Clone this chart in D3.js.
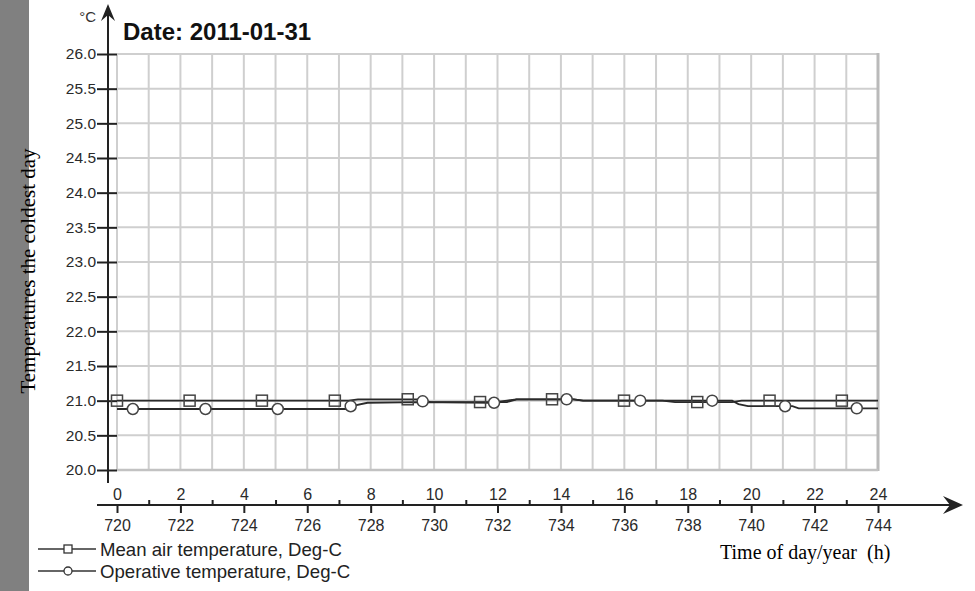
<!DOCTYPE html>
<html>
<head>
<meta charset="utf-8">
<script src="https://cdn.jsdelivr.net/npm/d3@7"></script>
<style>
  html, body { margin: 0; padding: 0; background: #fff; }
  svg { display: block; }
</style>
</head>
<body>
<svg id="chart" width="975" height="591"></svg>
<script>
// ---- Data ----
const title = "Date: 2011-01-31";
const yTicks = [20.0, 20.5, 21.0, 21.5, 22.0, 22.5, 23.0, 23.5, 24.0, 24.5, 25.0, 25.5, 26.0];
const hourLabels = [0, 2, 4, 6, 8, 10, 12, 14, 16, 18, 20, 22, 24];
const minorHours = [1, 3, 5, 7, 9, 11, 13, 15, 17, 19, 21, 23];
const yearHourOffset = 720;

// Mean air temperature, Deg-C
const airTimes  = [0, 7.3, 7.6, 9.5, 9.9, 12.3, 12.6, 14.4, 14.7, 17.2, 17.6, 19.4, 19.7, 24];
const airValues = [21.0, 21.0, 21.02, 21.02, 20.98, 20.98, 21.02, 21.02, 21.0, 21.0, 20.98, 20.98, 21.0, 21.0];
const airMarkerTimes  = [0, 2.29, 4.57, 6.87, 9.17, 11.45, 13.72, 15.99, 18.3, 20.58, 22.86];
const airMarkerValues = [21.0, 21.0, 21.0, 21.0, 21.02, 20.98, 21.02, 21.0, 20.98, 21.0, 21.0];

// Operative temperature, Deg-C
const opTimes  = [0, 7.25, 7.4, 7.9, 9.5, 11.8, 12.3, 12.6, 14.4, 14.7, 19.4, 19.6, 19.9, 21.3, 21.5, 24];
const opValues = [20.88, 20.88, 20.92, 20.97, 20.98, 20.97, 21.0, 21.02, 21.02, 21.0, 21.0, 20.95, 20.92, 20.92, 20.89, 20.89];
const opMarkerTimes  = [0.5, 2.79, 5.07, 7.37, 9.64, 11.89, 14.18, 16.5, 18.77, 21.07, 23.33];
const opMarkerValues = [20.88, 20.88, 20.88, 20.92, 20.99, 20.97, 21.02, 21.0, 21.0, 20.92, 20.89];

const seriesNames = ["Mean air temperature, Deg-C", "Operative temperature, Deg-C"];

// ---- Drawing ----
const svg = d3.select("#chart");
const x = d3.scaleLinear().domain([0, 24]).range([117, 878]);
const y = d3.scaleLinear().domain([20, 26]).range([470, 54]);
const axisX = 108, axisY = 505;
const ink = "#222";
const sans = "Arial, 'Liberation Sans', sans-serif";
const serif = "'Times New Roman', 'Liberation Serif', serif";

// left gray band
svg.append("rect").attr("x", 0).attr("y", 0).attr("width", 29).attr("height", 591).attr("fill", "#808080");

// grid
const grid = svg.append("g");
grid.selectAll("line.v").data(d3.range(0, 25)).join("line")
  .attr("x1", d => x(d)).attr("x2", d => x(d))
  .attr("y1", y(26)).attr("y2", y(20))
  .attr("stroke", "#cfcfcf").attr("stroke-width", 2);
grid.selectAll("line.h").data(yTicks).join("line")
  .attr("x1", x(0)).attr("x2", x(24))
  .attr("y1", d => y(d)).attr("y2", d => y(d))
  .attr("stroke", "#cfcfcf").attr("stroke-width", 2);
// frame right & bottom
svg.append("line").attr("x1", x(24)).attr("x2", x(24)).attr("y1", y(26) - 1).attr("y2", y(20) + 1)
  .attr("stroke", "#bababa").attr("stroke-width", 3);
svg.append("line").attr("x1", x(0)).attr("x2", x(24)).attr("y1", y(20)).attr("y2", y(20))
  .attr("stroke", "#c2c2c2").attr("stroke-width", 2.5);

// y axis
const yAxis = svg.append("g").attr("transform", `translate(${axisX},0)`)
  .call(d3.axisLeft(y).tickValues(yTicks).tickFormat(d3.format(".1f")).tickSizeInner(11).tickSizeOuter(0).tickPadding(1));
yAxis.select(".domain").remove();
yAxis.selectAll(".tick line").attr("x1", 9).attr("stroke", ink).attr("stroke-width", 2);
yAxis.selectAll(".tick text").attr("font-family", sans)
  .attr("font-size", 15.5).attr("fill", "#2a2a2a");
svg.append("line").attr("x1", axisX).attr("x2", axisX).attr("y1", 12).attr("y2", 483)
  .attr("stroke", ink).attr("stroke-width", 2);
svg.append("path").attr("d", `M${axisX - 7},21 L${axisX},4 L${axisX + 7},21 L${axisX},15 Z`).attr("fill", ink);
svg.append("text").attr("x", 96).attr("y", 22).attr("text-anchor", "end")
  .attr("font-family", sans).attr("font-size", 15).attr("fill", "#333").text("°C");

// x axis
svg.append("line").attr("x1", 97).attr("x2", 955).attr("y1", axisY).attr("y2", axisY)
  .attr("stroke", ink).attr("stroke-width", 2);
svg.append("path").attr("d", `M943,496 L963,${axisY} L943,514 L950,${axisY} Z`).attr("fill", ink);

const xTop = svg.append("g").attr("transform", `translate(0,${axisY})`)
  .call(d3.axisTop(x).tickValues(hourLabels).tickFormat(d3.format("d")).tickSize(0).tickPadding(5));
xTop.select(".domain").remove();
xTop.selectAll(".tick text").attr("font-family", sans)
  .attr("font-size", 16).attr("fill", "#2a2a2a");

const xMinor = svg.append("g").attr("transform", `translate(0,${axisY})`)
  .call(d3.axisTop(x).tickValues(minorHours).tickFormat("").tickSize(5));
xMinor.select(".domain").remove();
xMinor.selectAll(".tick line").attr("stroke", ink).attr("stroke-width", 2);

const xBottom = svg.append("g").attr("transform", `translate(0,${axisY})`)
  .call(d3.axisBottom(x).tickValues(hourLabels).tickFormat(d => String(yearHourOffset + d)).tickSize(8).tickPadding(7));
xBottom.select(".domain").remove();
xBottom.selectAll(".tick line").attr("stroke", ink).attr("stroke-width", 2);
xBottom.selectAll(".tick text").attr("font-family", sans)
  .attr("font-size", 16).attr("fill", "#2a2a2a");

// series lines
const line = d3.line().x(d => x(d[0])).y(d => y(d[1]));
const airPts = d3.zip(airTimes, airValues);
const opPts = d3.zip(opTimes, opValues);
svg.append("path").datum(airPts).attr("d", line).attr("fill", "none").attr("stroke", "#2a2a2a").attr("stroke-width", 1.8);
svg.append("path").datum(opPts).attr("d", line).attr("fill", "none").attr("stroke", "#2a2a2a").attr("stroke-width", 1.8);

// markers
const sq = 11;
svg.append("g").selectAll("rect").data(d3.zip(airMarkerTimes, airMarkerValues)).join("rect")
  .attr("x", d => x(d[0]) - sq / 2).attr("y", d => y(d[1]) - sq / 2)
  .attr("width", sq).attr("height", sq)
  .attr("fill", "none").attr("stroke", "#444").attr("stroke-width", 1.5);
svg.append("g").selectAll("circle").data(d3.zip(opMarkerTimes, opMarkerValues)).join("circle")
  .attr("cx", d => x(d[0])).attr("cy", d => y(d[1])).attr("r", 5.5)
  .attr("fill", "#fff").attr("stroke", "#444").attr("stroke-width", 1.5);

// title
svg.append("text").attr("x", 123).attr("y", 40)
  .attr("font-family", sans).attr("font-weight", "bold")
  .attr("font-size", 24).attr("fill", "#111").text(title);

// axis titles (serif)
svg.append("text").attr("transform", "translate(35,271) rotate(-90)").attr("text-anchor", "middle")
  .attr("font-family", serif).attr("font-size", 21)
  .attr("fill", "#000").text("Temperatures the coldest day");
svg.append("text").attr("x", 720).attr("y", 559).attr("xml:space", "preserve")
  .attr("font-family", serif).attr("font-size", 20)
  .attr("fill", "#000").text("Time of day/year  (h)");

// legend
const legend = svg.append("g");
const legendRows = [{ name: seriesNames[0], y: 549, shape: "square" }, { name: seriesNames[1], y: 571, shape: "circle" }];
legendRows.forEach(r => {
  legend.append("line").attr("x1", 38).attr("x2", 96).attr("y1", r.y).attr("y2", r.y)
    .attr("stroke", "#333").attr("stroke-width", 1.5);
  if (r.shape === "square") {
    legend.append("rect").attr("x", 64).attr("y", r.y - 4).attr("width", 8).attr("height", 8)
      .attr("fill", "#fff").attr("stroke", "#333").attr("stroke-width", 1.3);
  } else {
    legend.append("circle").attr("cx", 68).attr("cy", r.y).attr("r", 4)
      .attr("fill", "#fff").attr("stroke", "#333").attr("stroke-width", 1.3);
  }
  legend.append("text").attr("x", 100).attr("y", r.y + 7)
    .attr("font-family", sans).attr("font-size", 18.6)
    .attr("fill", "#222").text(r.name);
});
</script>
</body>
</html>
